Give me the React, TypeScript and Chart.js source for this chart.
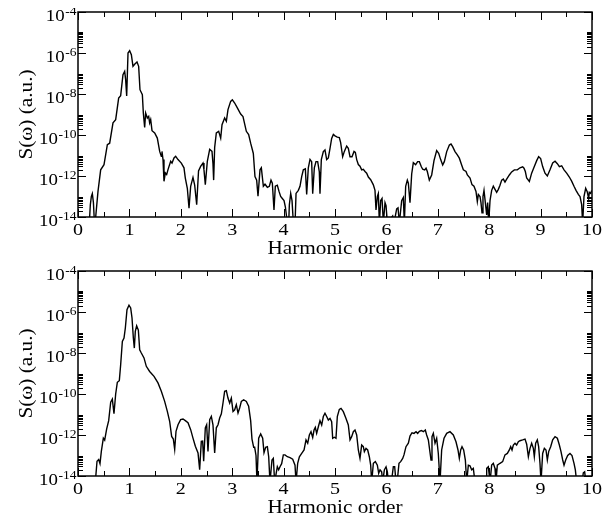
import React, { useEffect, useRef } from 'react';
import { Chart, registerables } from 'chart.js';

Chart.register(...registerables);

// ---- data (harmonic order, log10 of S(omega)) ----
const topH = [
  0.215, 0.24, 0.26, 0.279, 0.30, 0.324, 0.344, 0.389, 0.441, 0.506, 0.571, 0.616, 0.681, 0.733, 0.791, 0.830,
  0.875, 0.908, 0.927, 0.947, 0.973, 1.005, 1.038, 1.070, 1.102, 1.148, 1.180, 1.206, 1.252, 1.271, 1.297, 1.316,
  1.349, 1.375, 1.394, 1.414, 1.440, 1.492, 1.543, 1.589, 1.621, 1.634, 1.654, 1.673, 1.699, 1.725, 1.751, 1.803,
  1.829, 1.868, 1.900, 1.946, 2.010, 2.062, 2.088, 2.127, 2.160, 2.192, 2.237, 2.270, 2.309, 2.345, 2.386, 2.432,
  2.451, 2.477, 2.516, 2.562, 2.607, 2.626, 2.639, 2.659, 2.691, 2.737, 2.776, 2.802, 2.853, 2.886, 2.918, 2.970,
  3.003, 3.048, 3.100, 3.165, 3.210, 3.275, 3.320, 3.359, 3.411, 3.443, 3.476, 3.502, 3.541, 3.567, 3.606, 3.638,
  3.684, 3.723, 3.755, 3.781, 3.813, 3.839, 3.878, 3.911, 3.943, 3.975, 4.008, 4.034, 4.073, 4.099, 4.112, 4.138,
  4.164, 4.190, 4.223, 4.242, 4.287, 4.319, 4.352, 4.384, 4.423, 4.449, 4.481, 4.514, 4.546, 4.566, 4.598, 4.630,
  4.663, 4.695, 4.708, 4.734, 4.773, 4.805, 4.838, 4.870, 4.903, 4.935, 4.968, 5.000, 5.045, 5.084, 5.110, 5.149,
  5.182, 5.227, 5.259, 5.292, 5.331, 5.370, 5.396, 5.422, 5.454, 5.486, 5.519, 5.551, 5.584, 5.616, 5.649, 5.694,
  5.746, 5.778, 5.798, 5.824, 5.843, 5.863, 5.889, 5.915, 5.941, 5.973, 5.993, 6.019, 6.122, 6.148, 6.200, 6.226,
  6.252, 6.297, 6.329, 6.349, 6.375, 6.407, 6.427, 6.459, 6.492, 6.524, 6.569, 6.608, 6.641, 6.680, 6.706, 6.745,
  6.771, 6.796, 6.835, 6.881, 6.926, 6.978, 7.017, 7.056, 7.095, 7.127, 7.173, 7.225, 7.257, 7.289, 7.335, 7.380,
  7.419, 7.464, 7.497, 7.549, 7.575, 7.627, 7.665, 7.704, 7.743, 7.769, 7.789, 7.821, 7.840, 7.860, 7.879, 7.899,
  7.925, 7.951, 7.970, 7.990, 8.016, 8.048, 8.080, 8.113, 8.145, 8.178, 8.210, 8.243, 8.275, 8.307, 8.340, 8.392,
  8.437, 8.489, 8.547, 8.599, 8.651, 8.677, 8.703, 8.729, 8.781, 8.826, 8.872, 8.924, 8.962, 9.001, 9.040, 9.086,
  9.131, 9.183, 9.235, 9.281, 9.326, 9.365, 9.410, 9.456, 9.507, 9.559, 9.604, 9.650, 9.689, 9.734, 9.767, 9.799,
  9.818, 9.844, 9.877, 9.909, 9.935, 9.948, 9.974, 9.994,
];
const topExp = [
  -14.5, -13.4, -13.0, -12.86, -13.3, -14.5, -14.0, -12.75, -11.7, -11.45, -10.47, -10.4, -9.41, -9.25, -8.2, -8.08,
  -7.06, -6.9, -7.3, -8.1, -6.0, -5.89, -6.08, -6.65, -6.55, -6.44, -6.65, -7.79, -8.03, -8.93, -9.63, -8.93,
  -9.17, -9.09, -9.41, -9.25, -9.79, -9.9, -10.15, -10.8, -11.04, -10.8, -11.2, -12.26, -11.85, -11.93, -11.69, -11.28,
  -11.37, -11.12, -11.04, -11.2, -11.37, -11.6, -12.1, -12.6, -13.57, -12.5, -12.07, -12.45, -13.4, -11.75, -11.53, -11.37,
  -11.7, -12.42, -11.28, -10.7, -10.8, -11.4, -12.2, -10.6, -9.9, -9.82, -10.15, -9.5, -9.17, -9.33, -8.76, -8.36,
  -8.28, -8.44, -8.68, -8.98, -9.1, -9.82, -9.98, -10.4, -10.9, -12.03, -12.2, -12.98, -11.7, -11.6, -12.5, -12.4,
  -12.55, -12.5, -12.2, -12.35, -13.66, -12.5, -12.45, -12.75, -13.0, -13.1, -13.2, -13.5, -14.3, -14.3, -13.4, -12.85,
  -13.2, -14.3, -14.3, -12.85, -12.7, -12.5, -12.03, -11.7, -11.65, -12.9, -11.6, -11.19, -11.3, -12.86, -11.6, -11.3,
  -11.3, -11.8, -12.86, -11.2, -10.81, -10.73, -11.2, -11.12, -10.65, -10.17, -9.97, -10.04, -10.1, -10.13, -10.37, -11.06,
  -10.8, -10.54, -10.65, -11.06, -11.06, -10.8, -10.85, -11.2, -11.44, -11.52, -11.7, -11.67, -11.78, -11.86, -12.05, -12.18,
  -12.43, -12.7, -13.66, -13.0, -12.86, -14.3, -13.2, -13.1, -14.3, -13.3, -13.45, -14.3, -13.95, -14.3, -13.6, -13.55,
  -14.3, -13.2, -13.05, -14.3, -12.5, -12.2, -12.35, -13.3, -11.9, -11.35, -11.45, -11.3, -11.3, -11.55, -11.67, -11.7,
  -11.62, -11.78, -12.2, -11.95, -11.25, -10.76, -10.89, -11.2, -11.46, -11.3, -10.81, -10.49, -10.44, -10.57, -10.81, -10.97,
  -11.13, -11.46, -11.7, -11.78, -11.95, -12.1, -12.42, -12.5, -12.75, -13.25, -12.9, -13.0, -13.3, -13.8, -13.0, -12.7,
  -13.3, -13.9, -13.3, -14.3, -13.2, -12.7, -12.5, -12.65, -12.8, -12.65, -12.45, -12.2, -12.15, -12.3, -12.15, -11.95,
  -11.8, -11.7, -11.7, -11.6, -11.55, -11.62, -11.78, -12.1, -12.27, -11.86, -11.57, -11.25, -11.06, -11.15, -11.54, -11.86,
  -12.0, -11.7, -11.36, -11.28, -11.4, -11.54, -11.5, -11.7, -11.86, -12.05, -12.25, -12.5, -12.7, -12.9, -13.0, -13.4,
  -14.3, -13.0, -12.6, -12.78, -13.1, -12.8, -12.85, -12.7,
];

const botH = [
  0.30, 0.337, 0.370, 0.402, 0.428, 0.454, 0.493, 0.519, 0.558, 0.597, 0.636, 0.668, 0.700, 0.733, 0.765, 0.804,
  0.830, 0.863, 0.895, 0.921, 0.953, 0.992, 1.025, 1.051, 1.077, 1.096, 1.115, 1.141, 1.174, 1.200, 1.232, 1.284,
  1.329, 1.394, 1.479, 1.556, 1.621, 1.686, 1.738, 1.783, 1.822, 1.855, 1.881, 1.907, 1.946, 1.997, 2.043, 2.088,
  2.140, 2.192, 2.237, 2.283, 2.335, 2.367, 2.399, 2.425, 2.445, 2.477, 2.503, 2.529, 2.562, 2.594, 2.626, 2.659,
  2.691, 2.724, 2.756, 2.789, 2.821, 2.853, 2.886, 2.918, 2.951, 2.983, 3.016, 3.048, 3.080, 3.113, 3.145, 3.178,
  3.223, 3.275, 3.320, 3.359, 3.385, 3.418, 3.437, 3.463, 3.482, 3.515, 3.554, 3.593, 3.619, 3.651, 3.684, 3.710,
  3.735, 3.774, 3.800, 3.826, 3.878, 3.904, 3.930, 3.962, 3.995, 4.027, 4.073, 4.125, 4.177, 4.222, 4.242, 4.274,
  4.307, 4.352, 4.398, 4.436, 4.469, 4.501, 4.533, 4.566, 4.592, 4.617, 4.643, 4.676, 4.708, 4.741, 4.773, 4.805,
  4.838, 4.870, 4.903, 4.935, 4.955, 4.987, 5.019, 5.045, 5.084, 5.117, 5.162, 5.214, 5.259, 5.292, 5.324, 5.357,
  5.389, 5.422, 5.454, 5.486, 5.519, 5.551, 5.571, 5.603, 5.636, 5.668, 5.694, 5.714, 5.746, 5.785, 5.824, 5.850,
  5.876, 5.908, 5.928, 5.960, 5.993, 6.019, 6.038, 6.071, 6.097, 6.135, 6.161, 6.187, 6.213, 6.245, 6.278, 6.317,
  6.342, 6.381, 6.427, 6.459, 6.498, 6.537, 6.576, 6.608, 6.641, 6.680, 6.719, 6.757, 6.783, 6.816, 6.868, 6.887,
  6.913, 6.946, 6.978, 7.010, 7.043, 7.075, 7.121, 7.173, 7.237, 7.302, 7.354, 7.393, 7.419, 7.445, 7.471, 7.503,
  7.536, 7.562, 7.594, 7.626, 7.659, 7.691, 7.724, 7.938, 7.951, 7.983, 8.016, 8.048, 8.080, 8.113, 8.132, 8.158,
  8.210, 8.262, 8.307, 8.353, 8.392, 8.418, 8.444, 8.470, 8.502, 8.534, 8.567, 8.599, 8.651, 8.697, 8.729, 8.762,
  8.794, 8.826, 8.859, 8.878, 8.904, 8.936, 8.962, 8.988, 9.008, 9.040, 9.073, 9.105, 9.131, 9.157, 9.196, 9.235,
  9.281, 9.326, 9.365, 9.397, 9.430, 9.456, 9.488, 9.527, 9.572, 9.611, 9.650, 9.676, 9.702, 9.805, 9.831, 9.857,
  9.883, 10.0,
];
const botExp = [
  -14.5, -14.3, -13.28, -13.2, -13.4, -12.8, -12.15, -12.25, -11.7, -11.3, -10.4, -10.25, -10.96, -10.0, -9.43, -9.35,
  -8.57, -7.43, -7.27, -6.78, -5.89, -5.67, -5.8, -6.29, -7.27, -7.76, -6.94, -6.67, -6.88, -7.84, -8.0, -8.24,
  -8.65, -8.9, -9.14, -9.46, -9.87, -10.36, -10.85, -11.33, -12.07, -12.2, -12.7, -11.82, -11.5, -11.25, -11.22, -11.3,
  -11.4, -11.74, -12.15, -12.55, -12.88, -13.69, -12.31, -12.3, -13.28, -11.65, -11.5, -12.8, -11.25, -11.09, -11.5, -12.88,
  -11.65, -11.5, -11.17, -10.97, -10.44, -9.87, -9.84, -10.2, -10.44, -10.2, -10.85, -10.77, -10.52, -10.93, -10.68, -10.36,
  -10.28, -10.36, -10.6, -11.3, -12.2, -12.6, -12.6, -13.0, -14.3, -12.16, -11.95, -12.16, -12.86, -12.6, -12.57, -13.06,
  -14.3, -13.22, -13.14, -14.3, -13.55, -13.7, -13.55, -13.4, -12.97, -12.97, -13.06, -13.1, -13.18, -13.47, -14.3, -13.38,
  -13.06, -12.9, -12.73, -12.24, -12.4, -12.0, -11.84, -12.12, -11.76, -11.63, -11.92, -11.6, -11.3, -11.51, -11.1, -10.94,
  -11.1, -11.27, -11.19, -11.35, -12.16, -12.11, -12.16, -11.1, -10.75, -10.7, -10.86, -11.19, -11.51, -12.24, -12.08, -11.84,
  -11.76, -12.0, -12.73, -13.14, -12.49, -12.57, -12.81, -12.65, -12.73, -13.06, -13.47, -14.3, -13.38, -13.3, -13.47, -13.87,
  -13.7, -13.8, -14.3, -13.7, -13.55, -13.8, -14.3, -14.2, -14.3, -13.55, -13.55, -14.3, -14.2, -13.38, -13.3, -13.14,
  -12.97, -12.57, -12.4, -12.05, -11.89, -11.92, -11.84, -11.92, -11.82, -11.78, -11.84, -11.76, -12.0, -12.24, -13.22, -12.08,
  -11.92, -12.4, -12.16, -12.9, -14.3, -12.73, -12.16, -11.92, -11.84, -12.0, -12.33, -12.73, -13.14, -12.73, -12.57, -12.73,
  -13.22, -14.3, -13.47, -13.5, -13.7, -13.63, -14.3, -14.3, -13.63, -13.55, -14.3, -13.47, -13.38, -13.63, -14.3, -13.47,
  -13.38, -13.3, -12.97, -12.9, -12.73, -12.57, -12.73, -12.49, -12.4, -12.49, -12.33, -12.28, -12.24, -12.2, -12.45, -13.06,
  -12.65, -12.4, -12.65, -13.06, -12.4, -12.24, -12.57, -13.38, -14.3, -12.9, -12.65, -12.73, -13.22, -12.81, -12.57, -12.24,
  -12.08, -12.16, -12.49, -12.81, -13.22, -13.47, -13.22, -13.0, -12.9, -13.0, -13.38, -13.7, -14.3, -14.3, -13.85, -13.8,
  -14.3, -14.5,
];

const xTickValues = [0, 1, 2, 3, 4, 5, 6, 7, 8, 9, 10];
const xMinorValues = [0.5, 1.5, 2.5, 3.5, 4.5, 5.5, 6.5, 7.5, 8.5, 9.5];
const yTickExponents = [-4, -6, -8, -10, -12, -14];
const yMinorFactors = [2, 3, 4, 5, 6, 7, 8, 9, 10];
const xTitle = 'Harmonic order';
const yTitle = 'S(\u03c9) (a.u.)';

const SERIF = '"Liberation Serif", "Times New Roman", serif';
const SX = 1.18;

function drawScaledText(ctx: CanvasRenderingContext2D, text: string, x: number, y: number, font: string, align: CanvasTextAlign) {
  ctx.save();
  ctx.font = font;
  ctx.translate(x, y);
  ctx.scale(SX, 1);
  ctx.textAlign = align;
  ctx.textBaseline = 'alphabetic';
  ctx.fillText(text, 0, 0);
  ctx.restore();
}

const axesPlugin = {
  id: 'graceAxes',
  afterDraw(chart: any) {
    const ctx: CanvasRenderingContext2D = chart.ctx;
    const a = chart.chartArea;
    const xs = chart.scales.x;
    const ys = chart.scales.y;
    ctx.save();
    ctx.strokeStyle = '#000';
    ctx.fillStyle = '#000';
    // ticks
    ctx.lineWidth = 1;
    ctx.beginPath();
    const MAJ = 8;
    const MIN = 5;
    for (const v of xTickValues) {
      const px = Math.round(xs.getPixelForValue(v)) + 0.5;
      ctx.moveTo(px, a.bottom); ctx.lineTo(px, a.bottom - MAJ);
      ctx.moveTo(px, a.top); ctx.lineTo(px, a.top + MAJ);
    }
    for (const v of xMinorValues) {
      const px = Math.round(xs.getPixelForValue(v)) + 0.5;
      ctx.moveTo(px, a.bottom); ctx.lineTo(px, a.bottom - MIN);
      ctx.moveTo(px, a.top); ctx.lineTo(px, a.top + MIN);
    }
    for (const e of yTickExponents) {
      const py = Math.round(ys.getPixelForValue(Math.pow(10, e))) + 0.5;
      ctx.moveTo(a.left, py); ctx.lineTo(a.left + MAJ, py);
      ctx.moveTo(a.right, py); ctx.lineTo(a.right - MAJ, py);
      if (e < -4) {
        for (const k of yMinorFactors) {
          const pm = Math.round(ys.getPixelForValue(k * Math.pow(10, e))) + 0.5;
          ctx.moveTo(a.left, pm); ctx.lineTo(a.left + MIN, pm);
          ctx.moveTo(a.right, pm); ctx.lineTo(a.right - MIN, pm);
        }
      }
    }
    ctx.stroke();
    // frame
    ctx.lineWidth = 1.5;
    ctx.strokeRect(a.left, a.top, a.right - a.left, a.bottom - a.top);

    // x tick labels
    const xFont = `17px ${SERIF}`;
    for (const v of xTickValues) {
      drawScaledText(ctx, String(v), xs.getPixelForValue(v), a.bottom + 18, xFont, 'center');
    }
    // y tick labels 10^e
    const baseFont = `16px ${SERIF}`;
    const expFont = `11.5px ${SERIF}`;
    for (const e of yTickExponents) {
      const py = ys.getPixelForValue(Math.pow(10, e));
      const expText = '-' + String(Math.abs(e));
      ctx.font = baseFont;
      const wBase = ctx.measureText('10').width * SX;
      ctx.font = expFont;
      const wExp = ctx.measureText(expText).width * SX;
      const x0 = a.left - 2 - wExp - wBase;
      drawScaledText(ctx, '10', x0, py + 9, baseFont, 'left');
      drawScaledText(ctx, expText, x0 + wBase + 0.5, py + 3, expFont, 'left');
    }
    // titles
    drawScaledText(ctx, xTitle, (a.left + a.right) / 2, a.bottom + 37, `18px ${SERIF}`, 'center');
    ctx.save();
    ctx.translate(a.left - 46, (a.top + a.bottom) / 2);
    ctx.rotate(-Math.PI / 2);
    drawScaledText(ctx, yTitle, 0, 0, `18px ${SERIF}`, 'center');
    ctx.restore();
    ctx.restore();
  },
};

function Panel({ hs, es, padTop, padBottom }: { hs: number[]; es: number[]; padTop: number; padBottom: number }) {
  const ref = useRef<HTMLCanvasElement | null>(null);
  useEffect(() => {
    if (!ref.current) return;
    const points = hs.map((h, i) => ({ x: h, y: Math.pow(10, es[i]) }));
    const chart = new Chart(ref.current, {
      type: 'line',
      data: {
        datasets: [
          {
            data: points,
            borderColor: '#000',
            borderWidth: 1.4,
            pointRadius: 0,
            tension: 0,
            fill: false,
          },
        ],
      },
      options: {
        animation: false,
        responsive: false,
        devicePixelRatio: 1,
        layout: { padding: { left: 70, right: 16, top: padTop, bottom: padBottom } },
        plugins: { legend: { display: false }, tooltip: { enabled: false } },
        scales: {
          x: { type: 'linear', min: 0, max: 10, display: false },
          y: { type: 'logarithmic', min: 1e-14, max: 1e-4, display: false },
        },
      },
      plugins: [axesPlugin],
    });
    return () => chart.destroy();
  }, [hs, es, padTop, padBottom]);
  return <canvas ref={ref} width={600} height={256} style={{ display: 'block', width: 600, height: 256 }} />;
}

export default function App() {
  return (
    <div style={{ width: 600, background: '#fff' }}>
      <Panel hs={topH} es={topExp} padTop={4} padBottom={47} />
      <Panel hs={botH} es={botExp} padTop={7} padBottom={44} />
    </div>
  );
}
